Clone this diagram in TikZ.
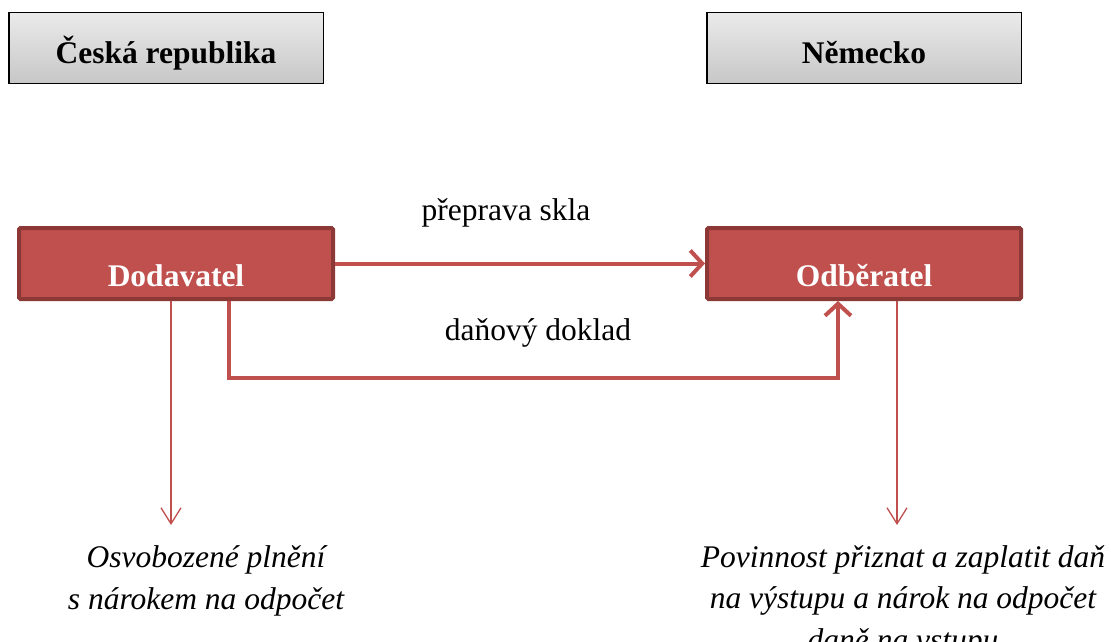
\documentclass[tikz,border=0pt]{standalone}
\usepackage{fontspec}
\setmainfont{Liberation Serif}
\usetikzlibrary{arrows.meta}
\definecolor{boxred}{HTML}{C0504D}
\definecolor{boxborder}{HTML}{8C3836}
\definecolor{linered}{HTML}{C0504D}
\begin{document}
\begin{tikzpicture}[x=1pt,y=-1pt,
  country/.style={draw=black, line width=1.5pt, top color=black!8, bottom color=black!22,
    minimum width=314.5pt, inner ysep=0pt, text height=51pt, text depth=19.5pt,
    font=\fontsize{31.5}{36}\selectfont\bfseries},
  party/.style={draw=boxborder, line width=4pt, fill=boxred, rounded corners=1.5pt,
    minimum width=314pt, inner ysep=0pt, text height=58pt, text depth=13pt, text=white,
    font=\fontsize{31.5}{36}\selectfont\bfseries},
  flow/.style={draw=linered, line width=4pt, -{Straight Barb[length=12pt,width=26pt]}},
  thinarrow/.style={draw=linered, line width=1.3pt, -{Straight Barb[length=16pt,width=20pt]}},
  lbl/.style={font=\fontsize{31.5}{36}\selectfont, inner sep=0pt},
  note/.style={font=\fontsize{31.5}{41.5}\selectfont\itshape, align=center, inner sep=0pt}
]
\useasboundingbox (0,0) rectangle (1111,642);
\node[country] (cz) at (166,48) {Česká republika};
\node[country] (de) at (864,48) {Německo};
\node[party] (dod) at (176,263.5) {Dodavatel};
\node[party] (odb) at (864,263.5) {Odběratel};
\draw[flow] (dod.east) -- (odb.west);
\node[lbl, anchor=base] (lp) at (506,220) {přeprava skla};
\coordinate (xl) at (229,378);
\coordinate (xr) at (838,378);
\draw[flow] (dod.south -| xl) -- (xl) -- (xr) -- (odb.south -| xr);
\node[lbl, anchor=base] (ld) at (538,340) {daňový doklad};
\coordinate (ta) at (171,525);
\coordinate (tb) at (897,525);
\draw[thinarrow] (dod.south -| ta) -- (ta);
\draw[thinarrow] (odb.south -| tb) -- (tb);
\node[note] (n1) at (206,581) {Osvobozené plnění\\s nárokem na odpočet};
\node[note] (n2) at (903,601) {Povinnost přiznat a zaplatit daň\\na výstupu a nárok na odpočet\\daně na vstupu};
\end{tikzpicture}
\end{document}
